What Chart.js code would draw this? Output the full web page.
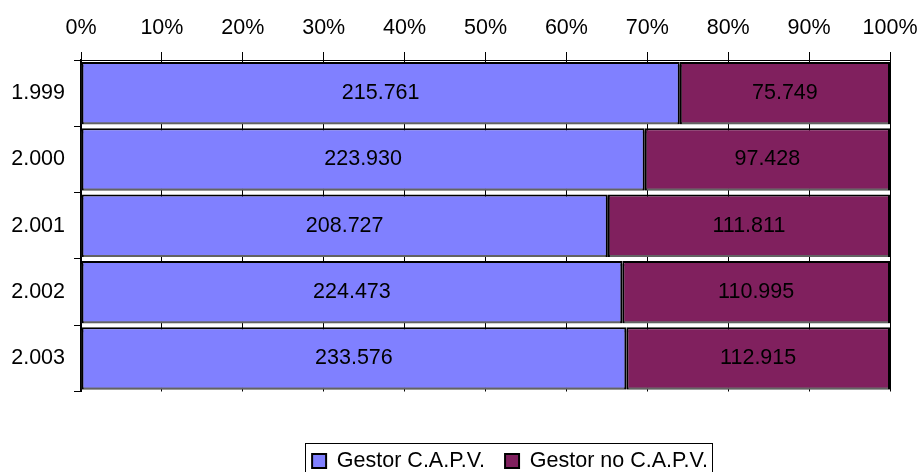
<!DOCTYPE html>
<html>
<head>
<meta charset="utf-8">
<script src="https://cdn.jsdelivr.net/npm/chart.js@4/dist/chart.umd.min.js"></script>
<style>
  html, body { margin: 0; padding: 0; background: #fff; }
  #wrap { width: 919px; height: 472px; position: relative; }
</style>
</head>
<body>
<div id="wrap"><canvas id="chart"></canvas></div>
<script>
const years = ['1.999', '2.000', '2.001', '2.002', '2.003'];
const gestorCapv = [215761, 223930, 208727, 224473, 233576];
const gestorNoCapv = [75749, 97428, 111811, 110995, 112915];
const pctTicks = [0, 10, 20, 30, 40, 50, 60, 70, 80, 90, 100];

const totals = years.map((_, i) => gestorCapv[i] + gestorNoCapv[i]);
const toPct = arr => arr.map((v, i) => v / totals[i] * 100);

// 215761 -> "215.761"
const fmt = n => String(n).replace(/\B(?=(\d{3})+(?!\d))/g, '.');

const FONT = '"Liberation Sans", Arial, sans-serif';
const FSIZE = 21.5;
Chart.defaults.font.family = FONT;
Chart.defaults.font.size = FSIZE;
Chart.defaults.color = '#000';

// grey drop shadow under each bar
const barShadow = {
  id: 'barShadow',
  beforeDatasetDraw(chart) {
    const ctx = chart.ctx;
    ctx.save();
    ctx.shadowColor = 'rgba(110,110,110,0.9)';
    ctx.shadowOffsetX = 0;
    ctx.shadowOffsetY = 3;
    ctx.shadowBlur = 0;
  },
  afterDatasetDraw(chart) {
    chart.ctx.restore();
  }
};

const barValues = {
  id: 'barValues',
  afterDatasetsDraw(chart) {
    const ctx = chart.ctx;
    ctx.save();
    ctx.font = FSIZE + 'px ' + FONT;
    ctx.fillStyle = '#000';
    ctx.textAlign = 'center';
    ctx.textBaseline = 'middle';
    chart.data.datasets.forEach((ds, di) => {
      chart.getDatasetMeta(di).data.forEach((bar, i) => {
        const left = Math.min(bar.x, bar.base);
        const right = Math.max(bar.x, bar.base);
        ctx.fillText(fmt(ds.raw[i]), (left + right) / 2, bar.y);
      });
    });
    ctx.restore();
  }
};

// legend sits off-centre under the plot in the original, with a thin frame
const LEGEND_CX = 510, LEGEND_CY = 456;
const legendPlace = {
  id: 'legendPlace',
  afterUpdate(chart) {
    const lg = chart.legend;
    if (!lg) return;
    const dx = LEGEND_CX - (lg.left + lg.right) / 2;
    const dy = LEGEND_CY - (lg.top + lg.bottom) / 2;
    lg.left += dx; lg.right += dx;
    lg.top += dy; lg.bottom += dy;
  },
  afterDraw(chart) {
    const lg = chart.legend;
    if (!lg || !lg.lineWidths) return;
    const pad = lg.options.labels.padding;
    const half = (lg.lineWidths[0] - pad) / 2;
    const cx = (lg.left + lg.right) / 2;
    const cy = (lg.top + lg.bottom) / 2;
    const l = Math.round(cx - half - 7) + 0.5;
    const r = Math.round(cx + half + 4) + 0.5;
    const t = Math.round(cy - 13) + 0.5;
    const ctx = chart.ctx;
    ctx.save();
    ctx.strokeStyle = '#000';
    ctx.lineWidth = 1;
    ctx.strokeRect(l, t, r - l, 60);
    ctx.restore();
  }
};

new Chart(document.getElementById('chart'), {
  type: 'bar',
  data: {
    labels: years,
    datasets: [
      {
        label: 'Gestor C.A.P.V.',
        data: toPct(gestorCapv),
        raw: gestorCapv,
        backgroundColor: '#8080FF',
        borderColor: '#000',
        borderWidth: 2,
        borderSkipped: false,
        categoryPercentage: 0.94,
        barPercentage: 1,
      },
      {
        label: 'Gestor no C.A.P.V.',
        data: toPct(gestorNoCapv),
        raw: gestorNoCapv,
        backgroundColor: '#80205E',
        borderColor: '#000',
        borderWidth: 2,
        borderSkipped: false,
        categoryPercentage: 0.94,
        barPercentage: 1,
      },
    ],
  },
  options: {
    indexAxis: 'y',
    responsive: true,
    maintainAspectRatio: false,
    animation: false,
    layout: { padding: { left: 0, right: 29, top: 0, bottom: 0 } },
    plugins: {
      legend: {
        position: 'bottom',
        labels: { boxWidth: 14, boxHeight: 14, padding: 20, font: { size: FSIZE }, color: '#000' },
      },
      tooltip: { enabled: false },
    },
    scales: {
      x: {
        position: 'top',
        stacked: true,
        min: 0,
        max: 100,
        afterBuildTicks: s => { s.ticks = pctTicks.map(v => ({ value: v })); },
        afterFit: s => { s.height = 60; s.paddingLeft = 0; s.paddingRight = 0; },
        ticks: { padding: 11, callback: v => v + '%', maxRotation: 0 },
        grid: { color: '#000', tickLength: 8, drawOnChartArea: true },
        border: { color: '#000', width: 1 },
      },
      spacer: {
        type: 'linear',
        axis: 'x',
        position: 'bottom',
        display: true,
        ticks: { display: false },
        grid: { display: false },
        border: { display: false },
        afterFit: s => { s.height = 29; s.paddingLeft = 0; s.paddingRight = 0; },
      },
      y: {
        stacked: true,
        afterFit: s => { s.width = 81; },
        ticks: { padding: 9 },
        grid: { color: '#000', tickLength: 7, drawOnChartArea: false, offset: true },
        border: { color: '#000', width: 2 },
      },
    },
  },
  plugins: [barShadow, barValues, legendPlace],
});
</script>
</body>
</html>
